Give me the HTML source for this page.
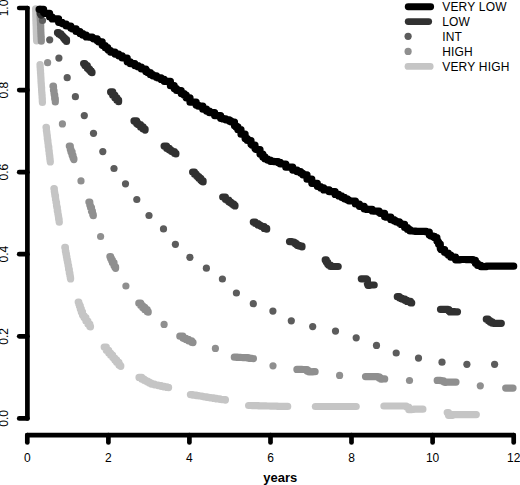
<!DOCTYPE html><html><head><meta charset="utf-8"><style>html,body{margin:0;padding:0;background:#fff;}svg{display:block;}text{font-family:"Liberation Sans",sans-serif;}</style></head><body>
<svg width="520" height="485" viewBox="0 0 520 485">
<rect width="520" height="485" fill="#fff"/>
<g stroke="#000" stroke-width="4.7" stroke-linecap="round" stroke-linejoin="round" fill="none">
<line x1="27.4" y1="8" x2="27.4" y2="418.4"/>
<line x1="19.2" y1="418.4" x2="27.4" y2="418.4"/>
<line x1="19.2" y1="336.3" x2="27.4" y2="336.3"/>
<line x1="19.2" y1="254.2" x2="27.4" y2="254.2"/>
<line x1="19.2" y1="172.2" x2="27.4" y2="172.2"/>
<line x1="19.2" y1="90.1" x2="27.4" y2="90.1"/>
<line x1="19.2" y1="8.0" x2="27.4" y2="8.0"/>
<line x1="27.3" y1="435.1" x2="513.7" y2="435.1"/>
<line x1="27.3" y1="435.1" x2="27.3" y2="442.5"/>
<line x1="108.4" y1="435.1" x2="108.4" y2="442.5"/>
<line x1="189.4" y1="435.1" x2="189.4" y2="442.5"/>
<line x1="270.5" y1="435.1" x2="270.5" y2="442.5"/>
<line x1="351.5" y1="435.1" x2="351.5" y2="442.5"/>
<line x1="432.6" y1="435.1" x2="432.6" y2="442.5"/>
<line x1="513.7" y1="435.1" x2="513.7" y2="442.5"/>
</g>
<g font-size="12" fill="#000">
<text transform="translate(8.4,418.4) rotate(-90)" text-anchor="middle">0.0</text>
<text transform="translate(8.4,336.3) rotate(-90)" text-anchor="middle">0.2</text>
<text transform="translate(8.4,254.2) rotate(-90)" text-anchor="middle">0.4</text>
<text transform="translate(8.4,172.2) rotate(-90)" text-anchor="middle">0.6</text>
<text transform="translate(8.4,90.1) rotate(-90)" text-anchor="middle">0.8</text>
<text transform="translate(8.4,8.0) rotate(-90)" text-anchor="middle">1.0</text>
<text x="27.3" y="462.2" text-anchor="middle">0</text>
<text x="108.4" y="462.2" text-anchor="middle">2</text>
<text x="189.4" y="462.2" text-anchor="middle">4</text>
<text x="270.5" y="462.2" text-anchor="middle">6</text>
<text x="351.5" y="462.2" text-anchor="middle">8</text>
<text x="432.6" y="462.2" text-anchor="middle">10</text>
<text x="513.7" y="462.2" text-anchor="middle">12</text>
</g>
<text x="263.3" y="481.9" font-size="13" font-weight="bold" fill="#000">years</text>
<g fill="none" stroke-linecap="round" stroke-linejoin="round" stroke-width="7.2">
<g stroke="#c5c5c5">
<polyline points="35.6,8.9 35.7,8.9 35.7,11.8 35.8,11.8 35.8,14.8 35.8,14.8 35.8,17 35.9,17 35.9,21 36,21 36,23.7 36.1,23.7 36.1,25.8 36.2,25.8 36.2,27.3 36.2,27.3 36.2,28.9 36.3,28.9 36.3,32.3 36.4,32.3 36.4,33.6 36.4,33.6 36.4,35 36.5,35 36.5,37.2 36.5,37.2 36.5,38.7 36.6,38.7 36.6,39.9 36.6,39.9 36.6,40.8"/>
<polyline points="40,64.7 40.1,64.7 40.1,67.2 40.3,67.2 40.3,70.1 40.5,70.1 40.5,73.3 40.7,73.3 40.7,75.8 40.8,75.8 40.8,77.2 40.9,77.2 40.9,78.7 41,78.7 41,81.4 41.1,81.4 41.1,83.2 41.3,83.2 41.3,85.8 41.4,85.8 41.4,87.3 41.6,87.3 41.6,90.7 41.7,90.7 41.7,92.6 41.9,92.6 41.9,94.8 42.1,94.8 42.1,98.1 42.3,98.1 42.3,101.4 42.4,101.4 42.4,102.5"/>
<polyline points="46,127.3 46.4,127.3 46.4,131 46.6,131 46.6,131.8 46.8,131.8 46.8,133.7 47,133.7 47,135.6 47.3,135.6 47.3,138.7 47.6,138.7 47.6,140.6 47.9,140.6 47.9,143.1 48.1,143.1 48.1,144.3 48.3,144.3 48.3,146.8 48.8,146.8 48.8,150.8 49.2,150.8 49.2,153.9 49.5,153.9 49.5,155.9 49.8,155.9 49.8,158.9 50.1,158.9 50.1,160.9 50.3,160.9 50.3,161.9"/>
<polyline points="53.9,188.6 54.3,188.6 54.3,191.6 54.6,191.6 54.6,193.4 54.9,193.4 54.9,195.7 55.5,195.7 55.5,199.4 55.8,199.4 55.8,200.5 56,200.5 56,202.3 56.5,202.3 56.5,205.7 56.8,205.7 56.8,207.3 57.3,207.3 57.3,211 57.8,211 57.8,213.5 58,213.5 58,214.6 58.3,214.6 58.3,216.3 58.6,216.3 58.6,219.1 59.1,219.1 59.1,221.8 59.3,221.8 59.3,222.2"/>
<polyline points="64.8,247.4 65.4,247.4 65.4,251.4 65.9,251.4 65.9,253.8 66.4,253.8 66.4,256.8 66.9,256.8 66.9,259.6 67.4,259.6 67.4,262.1 67.9,262.1 67.9,264.3 68.1,264.3 68.1,265.7 68.6,265.7 68.6,269.3 69.3,269.3 69.3,273 69.9,273 69.9,275.8 70.3,275.8 70.3,277.9 70.6,277.9 70.6,278.9"/>
<polyline points="78.2,302 78.8,302 78.8,304.1 79.4,304.1 79.4,305.9 80.3,305.9 80.3,308.9 81.3,308.9 81.3,311.9 82.5,311.9 82.5,314.9 83,314.9 83,315.7 84,315.7 84,317.6 85.9,317.6 85.9,321 87.9,321 87.9,324 89.8,324 89.8,326.4 90.5,326.4 90.5,326.8"/>
<polyline points="104.2,347.1 106.3,347.1 106.3,350.3 108.7,350.3 108.7,353.1 110.6,353.1 110.6,355.2 112.6,355.2 112.6,357.3 113.5,357.3 113.5,358.2 114.8,358.2 114.8,359.9 116.6,359.9 116.6,362.3 118.9,362.3 118.9,364.9 120.1,364.9 120.1,365.8 120.8,365.8 120.8,366.3"/>
<polyline points="139,377.4 141.8,377.4 141.8,379.2 144.1,379.2 144.1,380.3 145.8,380.3 145.8,381.1 147.6,381.1 147.6,382.1 149.4,382.1 149.4,383.1 151.4,383.1 151.4,384.1 154.5,384.1 154.5,384.8 155.9,384.8 155.9,385 158.1,385 158.1,385.6 161.2,385.6 161.2,386.3 164.3,386.3 164.3,386.9 167,386.9 167,387.4 168.6,387.4 168.6,387.6"/>
<polyline points="190.4,394.6 192.7,394.6 192.7,395.1 196.2,395.1 196.2,395.7 198.7,395.7 198.7,396 202,396 202,396.5 203,396.5 203,396.6 204.1,396.6 204.1,396.8 206.8,396.8 206.8,397.3 208.9,397.3 208.9,397.6 211,397.6 211,397.9 213.7,397.9 213.7,398.4 216.6,398.4 216.6,398.9 219.9,398.9 219.9,399.3 221.7,399.3 221.7,399.6 225.4,399.6 225.4,400.1"/>
<polyline points="248.6,405.5 252.1,405.5 252.1,405.6 253.6,405.6 253.6,405.7 257.1,405.7 257.1,405.7 258.5,405.7 258.5,405.8 259.9,405.8 259.9,405.8 261.5,405.8 261.5,405.9 263.9,405.9 263.9,405.9 266.1,405.9 266.1,406 267.6,406 267.6,406 270.4,406 270.4,406.1 273,406.1 273,406.2 275.8,406.2 275.8,406.2 277.3,406.2 277.3,406.3 278.6,406.3 278.6,406.3 282.3,406.3 282.3,406.4 283.7,406.4 283.7,406.4 287.7,406.4 287.7,406.5"/>
<polyline points="315.4,406.5 318.5,406.5 319.8,406.5 321.1,406.5 323.9,406.5 326.6,406.5 328.4,406.5 331.2,406.5 334.4,406.5 337.5,406.5 339.2,406.5 342.5,406.5 344.5,406.5 347.3,406.5 349.3,406.5 352.1,406.5 354.1,406.5 356.2,406.5"/>
<polyline points="383.9,406 386.2,406 388,406 391.5,406 394.3,406 396.7,406 399.2,406 401.6,406 403.1,406 405,406 405,406.1 406.3,406.1 406.3,407 408.7,407 408.7,409.6 411.6,409.6 411.6,409.3 413.9,409.3 413.9,409.2 417.6,409.2 419.7,409.2 422.9,409.2"/>
<polyline points="447.2,412.5 448.5,412.5 448.5,415.3 452.5,415.3 452.5,414.6 454.3,414.6 458,414.6 460.3,414.6 463.9,414.6 465.7,414.6 467.7,414.6 471.4,414.6 473,414.6 476.3,414.6"/>
</g>
<g stroke="#8f8f8f">
<polyline points="40,13.8 40.1,13.8 40.1,17.6 40.3,17.6 40.3,20.7 40.5,20.7 40.5,23.9 40.5,23.9 40.5,25.1 40.7,25.1 40.7,28.7 40.8,28.7 40.8,32.1 40.9,32.1 40.9,34.1 41,34.1 41,36.3 41.2,36.3 41.2,39.2 41.3,39.2 41.3,41.2"/>
<polyline points="53,86.2 53.5,86.2 53.5,90.6 54,90.6 54,93.2 54.2,93.2 54.2,94.8 54.7,94.8 54.7,98.7 55.3,98.7 55.3,102"/>
<polyline points="69.3,146.1 70.3,146.1 70.3,149.6 71,149.6 71,151.9 72.1,151.9 72.1,155.3 73,155.3 73,157.7 73.5,157.7 73.5,158.7 73.9,158.7 73.9,159.6"/>
<polyline points="88.9,202 89.8,202 89.8,205.1 90.2,205.1 90.2,206 90.6,206 90.6,207.7 91.5,207.7 91.5,211.2 92.4,211.2 92.4,213.5 92.9,213.5 92.9,214.9 93.3,214.9 93.3,215.7"/>
<polyline points="109.9,256.5 110.6,256.5 110.6,258.4 111.4,258.4 111.4,260.2 112.4,260.2 112.4,262.7 114,262.7 114,265.8 114.7,265.8 114.7,266.9 115.6,266.9 115.6,268.3"/>
<polyline points="138.8,303.2 140.7,303.2 140.7,305.5 142.6,305.5 142.6,307.4 144.8,307.4 144.8,309.7 147.2,309.7 147.2,311.7 148.2,311.7 148.2,312.2"/>
<polyline points="179.8,336.2 182.9,336.2 182.9,337.9 184.2,337.9 184.2,338.4 186,338.4 186,339.4 188.5,339.4 188.5,340.8 191.7,340.8 191.7,342.3 193,342.3 193,342.6"/>
<polyline points="234.3,357.2 237.4,357.2 237.4,357.4 240.5,357.4 240.5,357.5 242.9,357.5 242.9,357.6 244,357.6 244,357.7 248.1,357.7 248.1,358.2 250.1,358.2 250.1,358.4 251.9,358.4 251.9,358.5 253.4,358.5 253.4,358.6"/>
<polyline points="296.9,369.4 299.1,369.4 299.1,369.4 301.9,369.4 301.9,369.5 304.4,369.5 304.4,369.5 306,369.5 306,369.7 307.1,369.7 307.1,370.9 309,370.9 309,372 312.9,372 312.9,371.7 315.1,371.7"/>
<polyline points="365.5,376.6 367.7,376.6 367.7,376.6 370.4,376.6 370.4,376.6 372.6,376.6 372.6,376.7 375.4,376.7 375.4,376.7 378,376.7 378,376.9 379.3,376.9 379.3,378.2 381,378.2 381,379.2 382.1,379.2 382.1,378.9 384.7,378.9"/>
<polyline points="437.2,380.4 440.4,380.4 440.4,380.6 442,380.6 442,380.8 443.6,380.8 443.6,381.8 445,381.8 445,382.3 446,382.3 446,382.1 449.7,382.1 451.5,382.1 454.4,382.1 456,382.1"/>
<polyline points="505.7,388.1 509.3,388.1 511.3,388.1 513,388.1"/>
</g>
</g>
<g fill="#8f8f8f">
<circle cx="47.6" cy="62.7" r="3.6"/>
<circle cx="62.4" cy="123.9" r="3.6"/>
<circle cx="81" cy="180.9" r="3.6"/>
<circle cx="100.6" cy="236.5" r="3.6"/>
<circle cx="125.9" cy="286" r="3.6"/>
<circle cx="164.1" cy="324.4" r="3.6"/>
<circle cx="215.4" cy="348.4" r="3.6"/>
<circle cx="273" cy="365.8" r="3.6"/>
<circle cx="339.6" cy="375.4" r="3.6"/>
<circle cx="409.5" cy="380.5" r="3.6"/>
<circle cx="480.3" cy="385.8" r="3.6"/>
</g>
<g fill="#5c5c5c">
<circle cx="42.5" cy="20.5" r="3.6"/>
<circle cx="49.7" cy="39.8" r="3.6"/>
<circle cx="58.9" cy="58.1" r="3.6"/>
<circle cx="67.2" cy="77.7" r="3.6"/>
<circle cx="75.4" cy="96.7" r="3.6"/>
<circle cx="84.3" cy="115.6" r="3.6"/>
<circle cx="93.5" cy="133.3" r="3.6"/>
<circle cx="102.8" cy="151.6" r="3.6"/>
<circle cx="114" cy="168.5" r="3.6"/>
<circle cx="125.5" cy="183.8" r="3.6"/>
<circle cx="136.8" cy="199.5" r="3.6"/>
<circle cx="149" cy="215.5" r="3.6"/>
<circle cx="163.5" cy="228.9" r="3.6"/>
<circle cx="175.4" cy="244.3" r="3.6"/>
<circle cx="189.9" cy="257.3" r="3.6"/>
<circle cx="206.4" cy="268.2" r="3.6"/>
<circle cx="222.4" cy="279" r="3.6"/>
<circle cx="236.4" cy="293" r="3.6"/>
<circle cx="253.3" cy="303.7" r="3.6"/>
<circle cx="272.9" cy="311.1" r="3.6"/>
<circle cx="291.3" cy="320.8" r="3.6"/>
<circle cx="312.7" cy="326.6" r="3.6"/>
<circle cx="335.5" cy="331.1" r="3.6"/>
<circle cx="356.2" cy="337.8" r="3.6"/>
<circle cx="376.5" cy="345.4" r="3.6"/>
<circle cx="396.2" cy="353" r="3.6"/>
<circle cx="418.5" cy="358.1" r="3.6"/>
<circle cx="442" cy="362.2" r="3.6"/>
<circle cx="466.9" cy="364.3" r="3.6"/>
<circle cx="494.6" cy="364.3" r="3.6"/>
</g>
<g fill="none" stroke-linecap="round" stroke-linejoin="round" stroke-width="7.2">
<g stroke="#313131">
<polyline points="39,9.4 40.2,9.4 40.2,13.4 41.1,13.4 41.1,15.1"/>
<polyline points="57.5,32.7 58.8,32.7 58.8,33.9 60.9,33.9 60.9,35.3 62,35.3 62,36 62.9,36 62.9,37.1 63.7,37.1 63.7,38.2 64.8,38.2 64.8,39.7 66.5,39.7 66.5,41.5"/>
<polyline points="83.6,63.5 84.9,63.5 84.9,65.6 87.3,65.6 87.3,68.2 88.5,68.2 88.5,69.2 89.6,69.2 89.6,70.5 91,70.5 91,72 92,72 92,72.7"/>
<polyline points="110.6,91.9 112.7,91.9 112.7,95.2 114.8,95.2 114.8,97.8 116.9,97.8 116.9,100.2 118.6,100.2 118.6,101.7"/>
<polyline points="134,120.9 136.6,120.9 136.6,123.4 138.2,123.4 138.2,124.7 140.5,124.7 140.5,126.9 143.1,126.9 143.1,129 145.1,129 145.1,130.1"/>
<polyline points="164.1,146.1 166.6,146.1 166.6,148.3 169.3,148.3 169.3,150 171,150 171,150.9 172.2,150.9 172.2,151.7 174.4,151.7 174.4,153.3 175.9,153.3 175.9,154"/>
<polyline points="192.6,172 194.5,172 194.5,174.2 196.2,174.2 196.2,175.6 197.2,175.6 197.2,176.6 198.8,176.6 198.8,178.3 200.8,178.3 200.8,180.2 201.7,180.2 201.7,180.9 203.1,180.9 203.1,182"/>
<polyline points="222.7,197 225.4,197 225.4,199.3 226.7,199.3 226.7,200.1 228.8,200.1 228.8,201.8 230.6,201.8 230.6,203 232,203 232,204.1 233.8,204.1 233.8,205.3 235,205.3 235,205.9"/>
<polyline points="253.3,222.1 255.3,222.1 255.3,223.5 258,223.5 258,224.9 259.7,224.9 259.7,225.6 261,225.6 261,226.5 264.2,226.5 264.2,228.4 266.7,228.4 266.7,229.2"/>
<polyline points="289.5,241.6 291.8,241.6 291.8,242 294,242 294,242.5 295,242.5 295,243.6 296.5,243.6 296.5,244.8 297.6,244.8 297.6,245.4 299.5,245.4 299.5,246.2 302,246.2 302,247"/>
<polyline points="325.2,259.9 326.3,259.9 326.3,262 327.6,262 327.6,264 328.5,264 328.5,265.1 330.5,265.1 330.5,266.5 332.6,266.5 332.6,266.5 334,266.5 334,266.5 335.5,266.5 335.5,266.5 338.2,266.5 338.2,266.5"/>
<polyline points="361.3,278.8 364.5,278.8 366.5,278.8 366.5,279.7 367.4,279.7 367.4,283.8 367.7,283.8 367.7,284.5 368,284.5 368,285.3 369.7,285.3 369.7,285 374.2,285"/>
<polyline points="397.3,296.7 399.3,296.7 399.3,297.8 400.9,297.8 400.9,298.4 402.2,298.4 402.2,299.1 404.9,299.1 404.9,300.3 407.1,300.3 407.1,301.4 410.5,301.4 410.5,302.8 411.7,302.8 411.7,302.9"/>
<polyline points="440.5,309.3 443.5,309.3 446.3,309.3 447.9,309.3 447.9,309.6 448.9,309.6 448.9,311 450,311 450,311.9 451.3,311.9 451.3,311.7 454.7,311.7 454.7,311.8 456.4,311.8 456.4,311.8 457.5,311.8 457.5,311.8"/>
<polyline points="486.3,319.2 488.1,319.2 488.1,320.6 490,320.6 490,321.9 492.2,321.9 492.2,323.2 494.5,323.2 494.5,323.4 497.2,323.4 497.2,323.3 499.9,323.3 501.3,323.3"/>
</g>
<polyline stroke="#000" stroke-width="7.2" points="39.5,9.3 43.6,9.3 43.6,12.5 44.6,12.5 44.6,13.3 49.6,13.3 49.6,17 52.2,17 52.2,18.9 58.6,18.9 58.6,22.3 62.1,22.3 62.1,23.5 63.1,23.5 63.1,24 66.2,24 66.2,26 70.8,26 70.8,28.1 72.1,28.1 72.1,28.8 76.1,28.8 76.1,31.5 80,31.5 80,33.6 82.9,33.6 82.9,35.2 86.2,35.2 86.2,36.9 88.6,36.9 88.6,37.1 92.3,37.1 92.3,38 93.5,38 93.5,38.8 97.2,38.8 97.2,40.7 98.5,40.7 98.5,41.8 102.2,41.8 102.2,45.2 103.1,45.2 103.1,45.7 105.2,45.7 105.2,47.7 107.7,47.7 107.7,49.6 108.8,49.6 108.8,50.5 110.5,50.5 110.5,52.1 115,52.1 115,54.1 118.7,54.1 118.7,55.8 122.2,55.8 122.2,58 127.2,58 127.2,61.8 130.3,61.8 130.3,63.7 134.8,63.7 134.8,65.6 138.1,65.6 138.1,67 141.4,67 141.4,69 145.8,69 145.8,71.4 147.6,71.4 147.6,72.6 150.4,72.6 150.4,74.7 152.8,74.7 152.8,75.8 156.5,75.8 156.5,77.5 157.5,77.5 157.5,77.8 161.1,77.8 161.1,79.4 164.2,79.4 164.2,81.3 170.4,81.3 170.4,85.7 174.2,85.7 174.2,88.6 176.5,88.6 176.5,90.5 181.2,90.5 181.2,93.6 184.2,93.6 184.2,95.2 186.2,95.2 186.2,97.8 190,97.8 190,102.2 196.1,102.2 196.1,105.1 198.3,105.1 198.3,106.2 202.8,106.2 202.8,109.2 206.5,109.2 206.5,111.1 209.5,111.1 209.5,112.7 214.6,112.7 214.6,115.6 220.6,115.6 220.6,118.3 223,118.3 223,118.9 225.7,118.9 225.7,119.8 229.3,119.8 229.3,120.9 231,120.9 231,122 234.5,122 234.5,125.7 236,125.7 236,126.9 237.9,126.9 237.9,129.7 241,129.7 241,134.2 245.1,134.2 245.1,138.4 246,138.4 246,138.6 247.3,138.6 247.3,140.5 251,140.5 251,144.2 251.9,144.2 251.9,145.1 255,145.1 255,148.4 256,148.4 256,149.5 260,149.5 260,154.1 262.8,154.1 262.8,156.9 265,156.9 265,159 267.8,159 267.8,160.2 270.4,160.2 270.4,161.3 273.8,161.3 273.8,161.6 278.1,161.6 278.1,162.4 280.3,162.4 280.3,164 285.8,164 285.8,167.2 292.7,167.2 292.7,170.1 297.1,170.1 297.1,171.7 300.6,171.7 300.6,172.9 302,172.9 302,173.3 302.8,173.3 302.8,174.8 307,174.8 307,179.2 311.8,179.2 311.8,183.3 317.3,183.3 317.3,186.3 319,186.3 319,186.7 320.6,186.7 320.6,187.9 323.7,187.9 323.7,189.9 329.2,189.9 329.2,191.7 335.1,191.7 335.1,194.4 338.7,194.4 338.7,195.9 341.6,195.9 341.6,197.3 344.5,197.3 344.5,198.8 347.3,198.8 347.3,200 349,200 349,201 355.4,201 355.4,204 359.4,204 359.4,206.3 364.1,206.3 364.1,208.8 366.6,208.8 366.6,209.4 372.2,209.4 372.2,210.9 373.3,210.9 373.3,211.1 379.1,211.1 379.1,212.5 380.2,212.5 380.2,213.3 384.6,213.3 384.6,216.7 385.4,216.7 385.4,217.1 390.8,217.1 390.8,219.7 394,219.7 394,220.8 396,220.8 396,221.8 399.4,221.8 399.4,223.3 401,223.3 401,224.4 404.6,224.4 404.6,227.5 407.5,227.5 407.5,229.5 410,229.5 410,231 413.4,231 413.4,231.1 416,231.1 416,231.4 422.8,231.4 422.8,231.3 426.2,231.3 426.2,232 429.3,232 429.3,235 430.5,235 430.5,235.8 432.7,235.8 432.7,236.4 434.5,236.4 434.5,237.7 436.9,237.7 436.9,241.1 438,241.1 438,242.2 438.6,242.2 438.6,244.2 440.3,244.2 440.3,248.4 441,248.4 441,249.6 444.6,249.6 444.6,252.4 446,252.4 446,253.2 448.3,253.2 448.3,255.1 450.8,255.1 450.8,257.2 455.6,257.2 455.6,259.8 459.9,259.8 459.9,259.5 466,259.5 466,259.6 471.8,259.6 471.8,259.7 473,259.7 473,260.3 475.4,260.3 475.4,263.3 477.5,263.3 477.5,265.3 480.9,265.3 480.9,266.6 486.5,266.6 486.5,266.2 493.1,266.2 493.1,266.2 497.3,266.2 502.5,266.2 506,266.2 513.7,266.2"/>
</g>
<g stroke-linecap="round" stroke-width="6.8" fill="none">
<line x1="408.2" y1="6.75" x2="430.7" y2="6.75" stroke="#000"/>
<line x1="408.2" y1="21.6" x2="428.7" y2="21.6" stroke="#313131"/>
<line x1="408.0" y1="66.4" x2="430.2" y2="66.4" stroke="#c5c5c5"/>
</g>
<circle cx="408.1" cy="36.3" r="3.6" fill="#5c5c5c"/>
<circle cx="408.1" cy="51.4" r="3.6" fill="#8f8f8f"/>
<g font-size="12" fill="#000" letter-spacing="0.2">
<text x="442.2" y="10.9">VERY LOW</text>
<text x="442.2" y="25.9">LOW</text>
<text x="442.2" y="40.9">INT</text>
<text x="442.2" y="55.9">HIGH</text>
<text x="442.2" y="70.9">VERY HIGH</text>
</g>
</svg></body></html>
